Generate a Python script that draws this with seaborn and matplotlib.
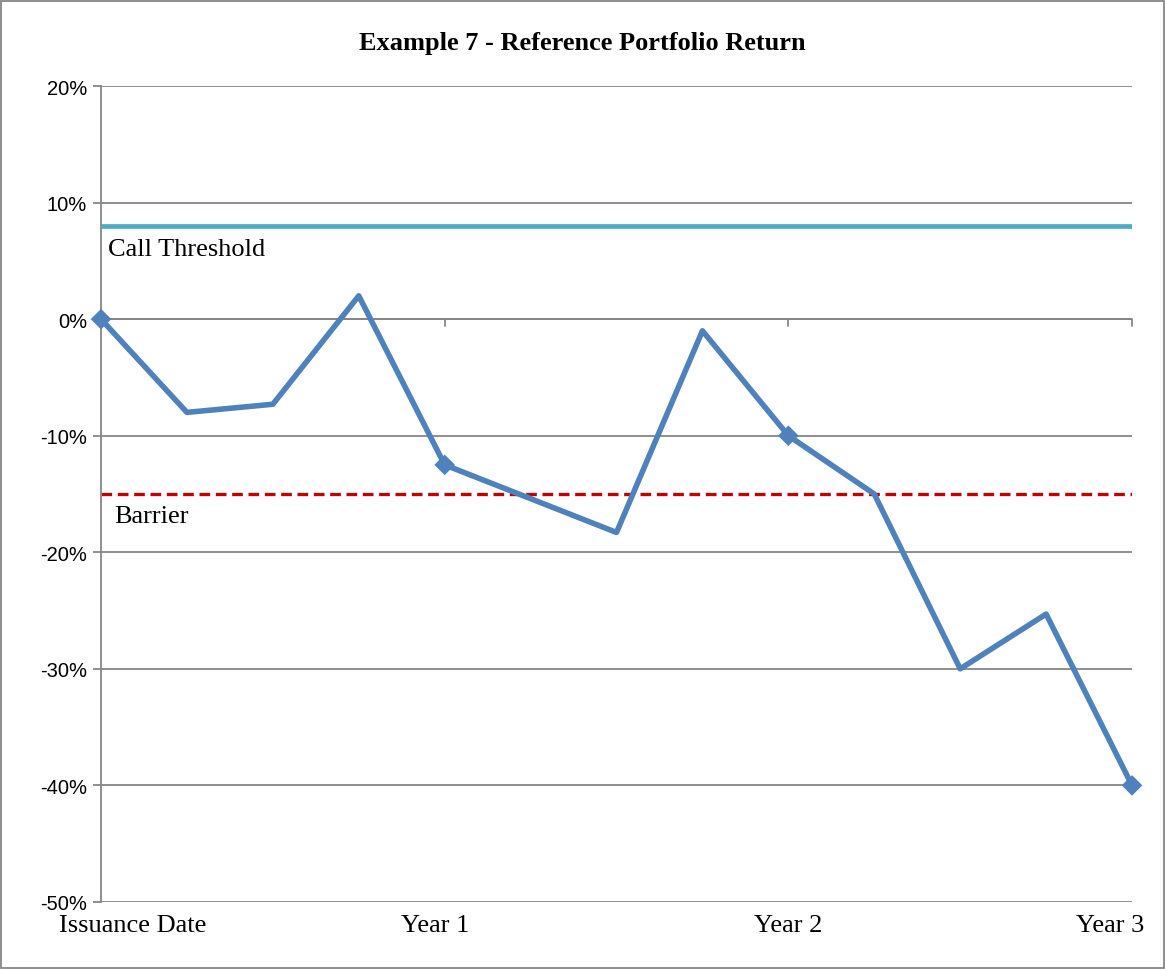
import numpy as np
import matplotlib
matplotlib.use("Agg")
import matplotlib.pyplot as plt
import matplotlib.transforms as mtrans
import seaborn as sns
import pandas as pd
from matplotlib.patches import Rectangle

# quarterly observations, issuance to year 3
quarters = list(range(13))
returns = [0.0, -8.0, -7.3, 2.0, -12.5, -15.4, -18.3, -1.0, -10.0, -15.0, -30.0, -25.3, -40.0]
year_ticks = [0, 4, 8, 12]
year_labels = ["Issuance Date", "Year 1", "Year 2", "Year 3"]
call_threshold = 8.0
barrier = -15.0
y_ticks = [20, 10, 0, -10, -20, -30, -40, -50]

df = pd.DataFrame({"quarter": quarters, "ret": returns})
df_obs = df[df["quarter"].isin(year_ticks)]

sns.set_style("white", {"text.color": "black", "xtick.color": "black", "ytick.color": "black"})
plt.rcParams["font.family"] = ["Liberation Serif", "DejaVu Serif"]

fig = plt.figure(figsize=(11.65, 9.7), dpi=100)
ax = fig.add_axes([0.0867, 0.0691, 0.8850, 0.8412])

# gridlines
for t in y_ticks:
    ax.axhline(t, color="#868686", lw=1.3, zorder=1)

# thresholds
ax.plot([0, 12], [call_threshold, call_threshold], color="#4BACC6", lw=3.4, zorder=2,
        solid_capstyle="butt")
ax.plot([0, 12], [barrier, barrier], color="#C00000", lw=2.4, ls=(0, (3.2, 1.7)), zorder=2)

sns.lineplot(data=df, x="quarter", y="ret", color="#4F81BD", lw=4.0, ax=ax, zorder=3)
sns.scatterplot(data=df_obs, x="quarter", y="ret", color="#4F81BD", marker="D", s=110,
                edgecolor="none", ax=ax, zorder=4, clip_on=False)

ax.text(0.08, call_threshold - 2.0, "Call Threshold", fontsize=19, va="center", ha="left", color="black")
ax.text(0.15, barrier - 1.9, "Barrier", fontsize=19, va="center", ha="left", color="black")

# x-axis crossing at 0 with ticks
ax.plot([0, 12], [0, 0], color="#868686", lw=1.3, zorder=1)
for t in year_ticks[1:]:
    ax.plot([t, t], [0, -0.6], color="#868686", lw=1.3, zorder=1, clip_on=False)

ax.set_xlim(0, 12)
ax.set_ylim(-50, 20)
ax.set_yticks(y_ticks)
ax.set_yticklabels([f"{t}%" for t in y_ticks], fontfamily="Liberation Sans", fontsize=14.5)
ax.set_xticks(year_ticks)
ax.set_xticklabels(year_labels, fontsize=19)
ax.tick_params(axis="y", length=6, color="#868686", labelcolor="black", width=1.3, pad=4, left=True)
ax.tick_params(axis="x", length=0, pad=9, labelcolor="black")
ax.set_xlabel("")
ax.set_ylabel("")

# excel nudges the end labels inward
shifts = [32, -9, 0, -22]
for lab, dx in zip(ax.get_xticklabels(), shifts):
    lab.set_transform(lab.get_transform() + mtrans.ScaledTranslation(dx / 100, 0, fig.dpi_scale_trans))

for s in ["top", "right", "bottom"]:
    ax.spines[s].set_visible(False)
ax.spines["left"].set_color("#868686")
ax.spines["left"].set_linewidth(1.3)

fig.text(0.5, 0.955, "Example 7 - Reference Portfolio Return", ha="center", va="center",
         fontsize=19, fontweight="bold", color="black")

fig.patches.append(Rectangle((0.001, 0.001), 0.998, 0.997, transform=fig.transFigure,
                             fill=False, edgecolor="#868686", lw=1.3))

fig.savefig("out.png", dpi=100)
